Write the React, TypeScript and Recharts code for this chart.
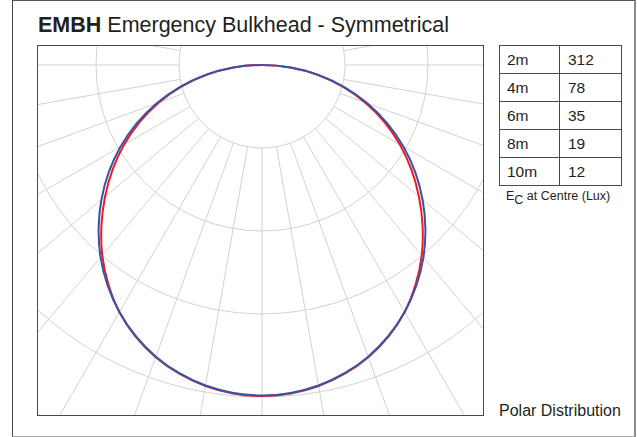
import React from 'react';
import { RadarChart, Radar, PolarGrid, PolarAngleAxis, PolarRadiusAxis } from 'recharts';

// luminous intensity (cd), read every 5deg from nadir (0) to horizontal (90) - symmetrical fitting
const halfAngles = [0, 5, 10, 15, 20, 25, 30, 35, 40, 45, 50, 55, 60, 65, 70, 75, 80, 85, 90];
const blueCd = [1250, 1245, 1231, 1207, 1174, 1131, 1079, 1018, 950, 874, 793, 708, 618, 523, 425, 322, 216, 109, 0];
const redCd = [1252, 1247, 1233, 1209, 1176, 1133, 1079, 1013, 940, 859, 775, 690, 602, 511, 416, 316, 213, 108, 0];
const maxCd = 1250;

// Ec at centre table
const distances = ['2m', '4m', '6m', '8m', '10m'];
const luxAtCentre = [312, 78, 35, 19, 12];

// grid
const gridAngles = Array.from({ length: 36 }, (_, i) => i * 10);
const gridRings = [83, 166, 249, 332, 415];

const STEP = 5;
const polarData = Array.from({ length: 360 / STEP }, (_, i) => {
  const a = i * STEP;
  let k = -1;
  if (a <= 90) k = halfAngles.indexOf(a);
  else if (a >= 270) k = halfAngles.indexOf(360 - a);
  return { angle: a, blue: k < 0 ? 0 : blueCd[k], red: k < 0 ? 0 : redCd[k] };
});

const FONT = '"Liberation Sans", Arial, Helvetica, sans-serif';
const INK = '#231f20';

const CHART_W = 446;
const CHART_H = 370;
const CX = 224;
const CY = 19;
const noMargin = { top: 0, right: 0, bottom: 0, left: 0 };

type Pt = { x: number; y: number };

// closed catmull-rom through the radar points recharts computed
function smoothPath(points: Pt[]) {
  const pts: Pt[] = [];
  points.forEach(p => {
    const last = pts[pts.length - 1];
    if (!last || Math.abs(last.x - p.x) > 0.01 || Math.abs(last.y - p.y) > 0.01) pts.push(p);
  });
  const first = pts[0];
  const lastP = pts[pts.length - 1];
  if (pts.length > 1 && Math.abs(first.x - lastP.x) < 0.01 && Math.abs(first.y - lastP.y) < 0.01) pts.pop();
  const n = pts.length;
  let d = `M${pts[0].x},${pts[0].y}`;
  for (let i = 0; i < n; i++) {
    const p0 = pts[(i - 1 + n) % n];
    const p1 = pts[i];
    const p2 = pts[(i + 1) % n];
    const p3 = pts[(i + 2) % n];
    const c1x = p1.x + (p2.x - p0.x) / 6;
    const c1y = p1.y + (p2.y - p0.y) / 6;
    const c2x = p2.x - (p3.x - p1.x) / 6;
    const c2y = p2.y - (p3.y - p1.y) / 6;
    d += ` C${c1x},${c1y} ${c2x},${c2y} ${p2.x},${p2.y}`;
  }
  return d + ' Z';
}

const curveShape = (color: string) => (props: any) => (
  <path d={smoothPath(props.points)} stroke={color} strokeWidth={2} fill="none" strokeLinejoin="round" />
);

export default function App() {
  return (
    <div style={{ position: 'absolute', left: 0, top: 0, width: 637, height: 437, background: '#fff', fontFamily: FONT, color: INK }}>
      {/* outer frame */}
      <div style={{ position: 'absolute', left: 12, top: 0, width: 621, height: 435, borderTop: '1.5px solid #555', borderLeft: '1.5px solid #444', borderRight: '2.5px solid #8c8c8c', borderBottom: '1.5px solid #aaa' }} />

      <div style={{ position: 'absolute', left: 38, top: 15, fontSize: 21.5, lineHeight: '21px', whiteSpace: 'nowrap' }}>
        <b>EMBH</b> Emergency Bulkhead - Symmetrical
      </div>

      {/* grid */}
      <div style={{ position: 'absolute', left: 38, top: 46 }}>
        <RadarChart width={CHART_W} height={CHART_H} data={polarData} cx={CX} cy={CY} innerRadius={83} outerRadius={415} startAngle={-90} endAngle={-450} margin={noMargin}>
          <PolarGrid gridType="circle" polarAngles={gridAngles} polarRadius={gridRings} stroke="#d2d2d2" strokeWidth={1} />
          <PolarAngleAxis dataKey="angle" tick={false} axisLine={false} tickLine={false} />
          <PolarRadiusAxis domain={[0, maxCd]} tick={false} axisLine={false} />
        </RadarChart>
      </div>

      {/* curves */}
      <div style={{ position: 'absolute', left: 38, top: 46 }}>
        <RadarChart width={CHART_W} height={CHART_H} data={polarData} cx={CX} cy={CY} innerRadius={0} outerRadius={331} startAngle={-90} endAngle={-450} margin={noMargin}>
          <PolarAngleAxis dataKey="angle" tick={false} axisLine={false} tickLine={false} />
          <PolarRadiusAxis domain={[0, maxCd]} tick={false} axisLine={false} />
          <Radar dataKey="red" stroke="#ed1c24" strokeWidth={2} fill="none" fillOpacity={0} shape={curveShape('#ed1c24')} isAnimationActive={false} />
          <Radar dataKey="blue" stroke="#3a54a4" strokeWidth={2} fill="none" fillOpacity={0} shape={curveShape('#3a54a4')} isAnimationActive={false} />
        </RadarChart>
      </div>

      {/* plot frame */}
      <div style={{ position: 'absolute', left: 37, top: 45, width: 445, height: 369, border: '1.5px solid #4a4a4a' }} />

      <table style={{ position: 'absolute', left: 499, top: 45, width: 123, borderCollapse: 'collapse', fontSize: 15.5, fontFamily: FONT, color: INK }}>
        <tbody>
          {distances.map((d, i) => (
            <tr key={d} style={{ height: 28 }}>
              <td style={{ border: '1.5px solid #4a4a4a', padding: '0 0 0 7px', width: 52, lineHeight: '15px' }}>{d}</td>
              <td style={{ border: '1.5px solid #4a4a4a', padding: '0 0 0 8px', lineHeight: '15px' }}>{luxAtCentre[i]}</td>
            </tr>
          ))}
        </tbody>
      </table>

      <div style={{ position: 'absolute', left: 506, top: 190, fontSize: 12.5, lineHeight: '13px', whiteSpace: 'nowrap' }}>
        E<sub style={{ fontSize: 12.5, verticalAlign: '-4px', lineHeight: 0 }}>C</sub> at Centre (Lux)
      </div>

      <div style={{ position: 'absolute', left: 499, top: 403, fontSize: 16, lineHeight: '16px', whiteSpace: 'nowrap' }}>
        Polar Distribution
      </div>
    </div>
  );
}
